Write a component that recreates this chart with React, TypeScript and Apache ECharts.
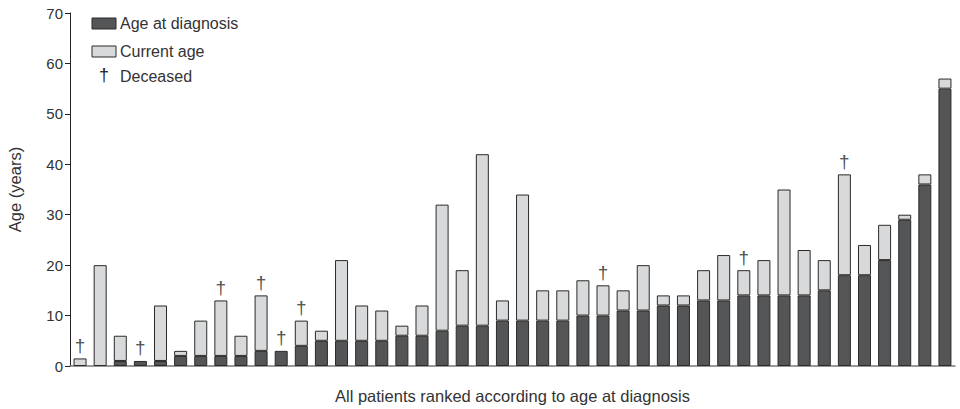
import React, { useEffect, useRef } from "react";
import * as echarts from "echarts";

const patients = Array.from({ length: 44 }, (_, i) => `P${i + 1}`);
const ageAtDiagnosis = [0, 0, 1, 1, 1, 2, 2, 2, 2, 3, 3, 4, 5, 5, 5, 5, 6, 6, 7, 8, 8, 9, 9, 9, 9, 10, 10, 11, 11, 12, 12, 13, 13, 14, 14, 14, 14, 15, 18, 18, 21, 29, 36, 55];
const currentAge = [1.5, 20, 6, 1, 12, 3, 9, 13, 6, 14, 3, 9, 7, 21, 12, 11, 8, 12, 32, 19, 42, 13, 34, 15, 15, 17, 16, 15, 20, 14, 14, 19, 22, 19, 21, 35, 23, 21, 38, 24, 28, 30, 38, 57];
const deceasedIndices = [0, 3, 7, 9, 10, 11, 26, 33, 38];
const yTicks = [0, 10, 20, 30, 40, 50, 60, 70];

const FONT = "Liberation Sans, Arial, Helvetica, sans-serif";
const DARK = "#545557";
const LIGHT = "#d8d9db";
const EDGE = "#2a2a2a";
const TEXT = "#333333";

export default function App() {
  const ref = useRef<HTMLDivElement>(null);
  useEffect(() => {
    if (!ref.current) return;
    const chart = echarts.init(ref.current, null, { renderer: "svg" });
    const extra = currentAge.map((c, i) => {
      const v = +(c - ageAtDiagnosis[i]).toFixed(2);
      return v > 0 ? v : null;
    });
    const dagger = deceasedIndices.map((i) => [i, currentAge[i]]);
    chart.setOption({
      animation: false,
      textStyle: { fontFamily: FONT },
      grid: { left: 70, right: 5, top: 13, bottom: 43, containLabel: false, outerBoundsMode: "none" },
      xAxis: {
        type: "category",
        data: patients,
        name: "All patients ranked according to age at diagnosis",
        nameLocation: "middle",
        nameGap: 21,
        nameTextStyle: { fontSize: 16.5, color: TEXT, fontFamily: FONT },
        axisLine: { lineStyle: { color: "#777", width: 1.5 } },
        axisTick: { show: false },
        axisLabel: { show: false },
        splitLine: { show: false },
      },
      yAxis: {
        type: "value",
        min: 0,
        max: 70,
        interval: 10,
        name: "Age (years)",
        nameLocation: "middle",
        nameGap: 47,
        nameRotate: 90,
        nameTextStyle: { fontSize: 16.5, color: TEXT, fontFamily: FONT },
        axisLine: { show: true, lineStyle: { color: "#222", width: 1 } },
        axisTick: { show: true, length: 5, lineStyle: { color: "#222" } },
        axisLabel: {
          fontSize: 15,
          color: TEXT,
          margin: 7,
          fontFamily: FONT,
          formatter: (v: number) => (yTicks.includes(v) ? String(v) : ""),
        },
        splitLine: { show: false },
      },
      series: [
        {
          name: "Age at diagnosis",
          type: "bar",
          stack: "age",
          barWidth: 13,
          data: ageAtDiagnosis.map((v) => (v > 0 ? v : null)),
          itemStyle: { color: DARK, borderColor: EDGE, borderWidth: 1 },
        },
        {
          name: "Current age",
          type: "bar",
          stack: "age",
          barWidth: 13,
          data: extra,
          itemStyle: { color: LIGHT, borderColor: EDGE, borderWidth: 1 },
        },
        {
          name: "Deceased",
          type: "scatter",
          data: dagger,
          symbolSize: 1,
          itemStyle: { color: "rgba(0,0,0,0)" },
          label: {
            show: true,
            position: "top",
            distance: 3,
            formatter: "\u2020",
            fontSize: 19,
            color: "#222",
            fontFamily: FONT,
          },
          z: 5,
        },
      ],
      graphic: [
        { type: "rect", shape: { x: 92, y: 18, width: 24, height: 11 }, style: { fill: DARK, stroke: EDGE, lineWidth: 1 } },
        { type: "text", x: 120, y: 23, style: { text: "Age at diagnosis", fontSize: 16, fill: TEXT, fontFamily: FONT, verticalAlign: "middle" } },
        { type: "rect", shape: { x: 92, y: 46, width: 24, height: 11 }, style: { fill: LIGHT, stroke: EDGE, lineWidth: 1 } },
        { type: "text", x: 120, y: 51, style: { text: "Current age", fontSize: 16, fill: TEXT, fontFamily: FONT, verticalAlign: "middle" } },
        { type: "text", x: 104, y: 75, style: { text: "\u2020", fontSize: 18, fill: "#222", fontFamily: FONT, align: "center", verticalAlign: "middle" } },
        { type: "text", x: 120, y: 76, style: { text: "Deceased", fontSize: 16, fill: TEXT, fontFamily: FONT, verticalAlign: "middle" } },
      ],
    });
    return () => chart.dispose();
  }, []);
  return <div ref={ref} style={{ width: 960, height: 409, position: "absolute", left: 0, top: 0 }} />;
}
